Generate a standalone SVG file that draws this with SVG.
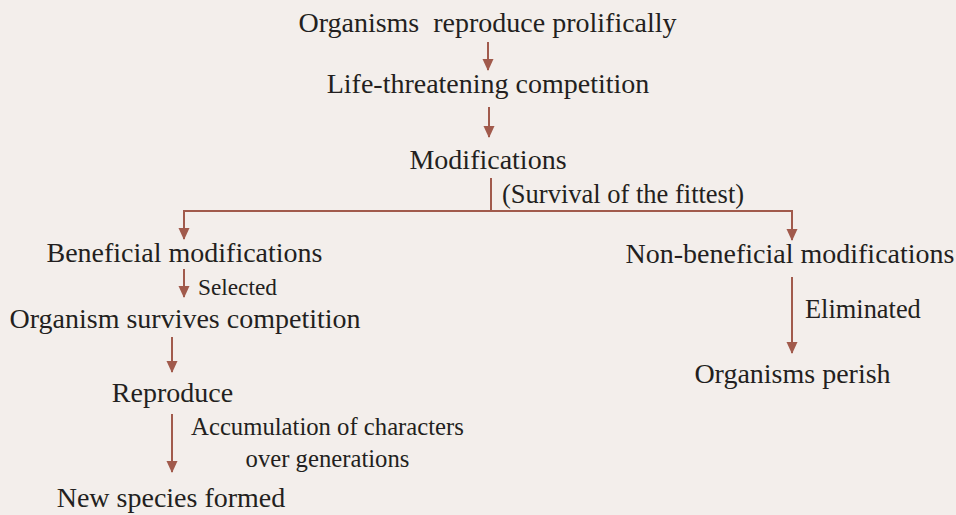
<svg xmlns="http://www.w3.org/2000/svg" width="956" height="515" viewBox="0 0 956 515">
<defs>
<marker id="ah" markerUnits="userSpaceOnUse" markerWidth="12" markerHeight="12" viewBox="0 0 12 12" refX="11" refY="6" orient="auto">
<path d="M0,0.5 L12,6 L0,11.5 Z" fill="#a15a4c"/>
</marker>
</defs>
<rect width="956" height="515" fill="#f3eeeb"/>
<g id="connectors" stroke="#a15a4c" stroke-width="2" fill="none">
<line x1="488" y1="42" x2="488" y2="70" marker-end="url(#ah)"/>
<line x1="489" y1="107" x2="489" y2="137" marker-end="url(#ah)"/>
<polyline points="491,178 491,211"/>
<polyline points="491,211 184,211 184,239" marker-end="url(#ah)"/>
<polyline points="491,211 792,211 792,240" marker-end="url(#ah)"/>
<line x1="184" y1="269" x2="184" y2="297" marker-end="url(#ah)"/>
<line x1="172" y1="337" x2="172" y2="372" marker-end="url(#ah)"/>
<line x1="172" y1="414" x2="172" y2="472" marker-end="url(#ah)"/>
<line x1="792" y1="277" x2="792" y2="353" marker-end="url(#ah)"/>
</g>
<g id="labels" fill="#231f20" stroke="none">
<text x="502" y="203" font-family="Liberation Serif" font-size="26.5">(Survival of the fittest)</text>
<text x="198" y="295" font-family="Liberation Serif" font-size="23.3">Selected</text>
<text x="805" y="318" font-family="Liberation Serif" font-size="26.4">Eliminated</text>
<text x="327.5" y="435" text-anchor="middle" font-family="Liberation Serif" font-size="24.7">Accumulation of characters</text>
<text x="327.5" y="467" text-anchor="middle" font-family="Liberation Serif" font-size="24.7">over generations</text>
</g>
<g id="n1" fill="#231f20"><text x="487.5" y="32" text-anchor="middle" xml:space="preserve" font-family="Liberation Serif" font-size="28">Organisms  reproduce prolifically</text></g>
<g id="n2" fill="#231f20"><text x="488" y="93" text-anchor="middle" font-family="Liberation Serif" font-size="28">Life-threatening competition</text></g>
<g id="n3" fill="#231f20"><text x="488" y="169" text-anchor="middle" font-family="Liberation Serif" font-size="28">Modifications</text></g>
<g id="n4" fill="#231f20"><text x="184.5" y="262" text-anchor="middle" font-family="Liberation Serif" font-size="28">Beneficial modifications</text></g>
<g id="n5" fill="#231f20"><text x="790" y="263" text-anchor="middle" font-family="Liberation Serif" font-size="28">Non-beneficial modifications</text></g>
<g id="n6" fill="#231f20"><text x="185" y="328" text-anchor="middle" font-family="Liberation Serif" font-size="28">Organism survives competition</text></g>
<g id="n7" fill="#231f20"><text x="172.5" y="402" text-anchor="middle" font-family="Liberation Serif" font-size="28">Reproduce</text></g>
<g id="n8" fill="#231f20"><text x="171" y="507" text-anchor="middle" font-family="Liberation Serif" font-size="28">New species formed</text></g>
<g id="n9" fill="#231f20"><text x="792.5" y="383" text-anchor="middle" font-family="Liberation Serif" font-size="28">Organisms perish</text></g>
</svg>
